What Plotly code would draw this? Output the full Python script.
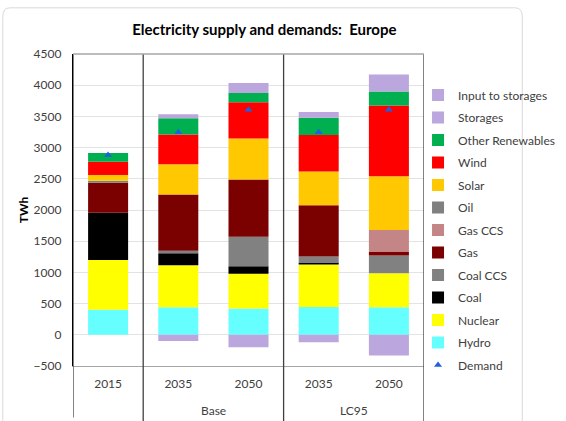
import plotly.graph_objects as go

# Scenario columns: year labels and their scenario group
years = ["2015", "2035", "2050", "2035", "2050"]
groups = ["", "Base", "Base", "LC95", "LC95"]

# Electricity supply by source (TWh)
hydro = [400, 440, 420, 445, 440]
nuclear = [800, 675, 560, 680, 545]
coal = [755, 190, 120, 35, 0]
coal_ccs = [0, 40, 470, 95, 285]
gas = [480, 905, 920, 820, 55]
gas_ccs = [0, 0, 0, 0, 355]
oil = [35, 0, 0, 0, 0]
solar = [90, 485, 655, 540, 860]
wind = [215, 475, 580, 585, 1135]
other_renewables = [140, 260, 150, 280, 225]
storages = [0, 65, 160, 90, 270]
input_to_storages = [0, -100, -200, -120, -330]
demand = [2880, 3245, 3605, 3245, 3605]

x = list(range(len(years)))

fig = go.Figure()

fig.add_trace(go.Scatter(
    x=x, y=demand, name="Demand", mode="markers",
    marker=dict(symbol="triangle-up", size=7, color="#1F5FE0"),
    legendgroup="Demand", legendrank=100,
))

rank = [100]


def stack(name, values, color, pattern=None):
    marker = dict(color=color, line=dict(width=0))
    if pattern is not None:
        marker["pattern"] = pattern
    rank[0] -= 1
    fig.add_trace(go.Bar(x=x, y=values, name=name, marker=marker,
                         width=0.57, legendgroup=name, legendrank=rank[0]))


def checker(fg, bg):
    return dict(shape=".", fgcolor=fg, bgcolor=bg, size=2, solidity=0.5,
                fillmode="replace")


stack("Hydro", hydro, "#66FFFF")
stack("Nuclear", nuclear, "#FFFF00")
stack("Coal", coal, "#000000")
stack("Coal CCS", coal_ccs, "#808080", checker("#505050", "#A8A8A8"))
stack("Gas", gas, "#7B0000")
stack("Gas CCS", gas_ccs, "#C08080", checker("#A85858", "#D8A8A8"))
stack("Oil", oil, "#808080")
stack("Solar", solar, "#FFC800")
stack("Wind", wind, "#FF0000")
stack("Other Renewables", other_renewables, "#00B050")
stack("Storages", storages, "#B49FDA", checker("#A48ACF", "#CDBDE8"))
stack("Input to storages", input_to_storages, "#B49FDA",
      checker("#A48ACF", "#CDBDE8"))

FONT = "Lato, 'Liberation Sans', sans-serif"

shapes = []
# separators between the scenario groups, running down through the labels
for xv, y0 in [(-0.5, -0.165), (0.5, -0.176), (2.5, -0.176), (4.5, -0.176)]:
    shapes.append(dict(type="line", xref="x", yref="paper", x0=xv, x1=xv,
                       y0=y0, y1=1, line=dict(color="#404040", width=1.3)))
# top border of the plotting area
shapes.append(dict(type="line", xref="paper", yref="paper", x0=0, x1=1,
                   y0=1, y1=1, line=dict(color="#A6A6A6", width=1.3)))
# faint rounded outline around the whole chart
shapes.append(dict(
    type="path", xref="paper", yref="paper",
    path="M -0.2,-0.2 L -0.2,1.12 Q -0.2,1.148 -0.18,1.148 "
         "L 1.26,1.148 Q 1.28,1.148 1.28,1.12 L 1.28,-0.2",
    line=dict(color="#D9D9D9", width=1)))

annotations = []
for i, g in enumerate(groups):
    if g and (i == 0 or groups[i - 1] != g):
        n = groups.count(g)
        annotations.append(dict(
            x=i + (n - 1) / 2, y=-0.144, xref="x", yref="paper", text=g,
            showarrow=False, font=dict(family=FONT, size=12, color="#404040"),
            yanchor="middle"))

fig.update_layout(
    width=566, height=421,
    margin=dict(l=73, r=142, t=54, b=55, autoexpand=False),
    paper_bgcolor="white", plot_bgcolor="white",
    barmode="relative", bargap=0.43,
    font=dict(family=FONT, size=12, color="#404040"),
    title=dict(text="<b>Electricity supply and demands:  Europe</b>",
               x=0.467, xanchor="center", y=0.93, yanchor="middle",
               font=dict(family=FONT, size=15, color="#000000")),
    xaxis=dict(range=[-0.5, 4.5], tickvals=x, ticktext=years,
               showgrid=False, zeroline=False, showline=True,
               linecolor="#A6A6A6", linewidth=1.3, ticks="",
               ticklabelstandoff=6,
               tickfont=dict(family=FONT, size=12, color="#404040")),
    yaxis=dict(range=[-500, 4500], dtick=500, showgrid=True,
               gridcolor="#E3E3E3", gridwidth=1, zeroline=False,
               showline=True, linecolor="#000000", linewidth=1.3,
               ticks="", ticklabelstandoff=8,
               tickfont=dict(family=FONT, size=12, color="#404040"),
               title=dict(text="<b>TWh</b>", standoff=2,
                          font=dict(family=FONT, size=12, color="#000000"))),
    legend=dict(traceorder="grouped", x=0.983, xanchor="left",
                y=0.915, yanchor="top", tracegroupgap=3.5,
                font=dict(family=FONT, size=12, color="#404040"),
                bgcolor="rgba(0,0,0,0)"),
    shapes=shapes,
    annotations=annotations,
)

fig.write_html("out.html")
